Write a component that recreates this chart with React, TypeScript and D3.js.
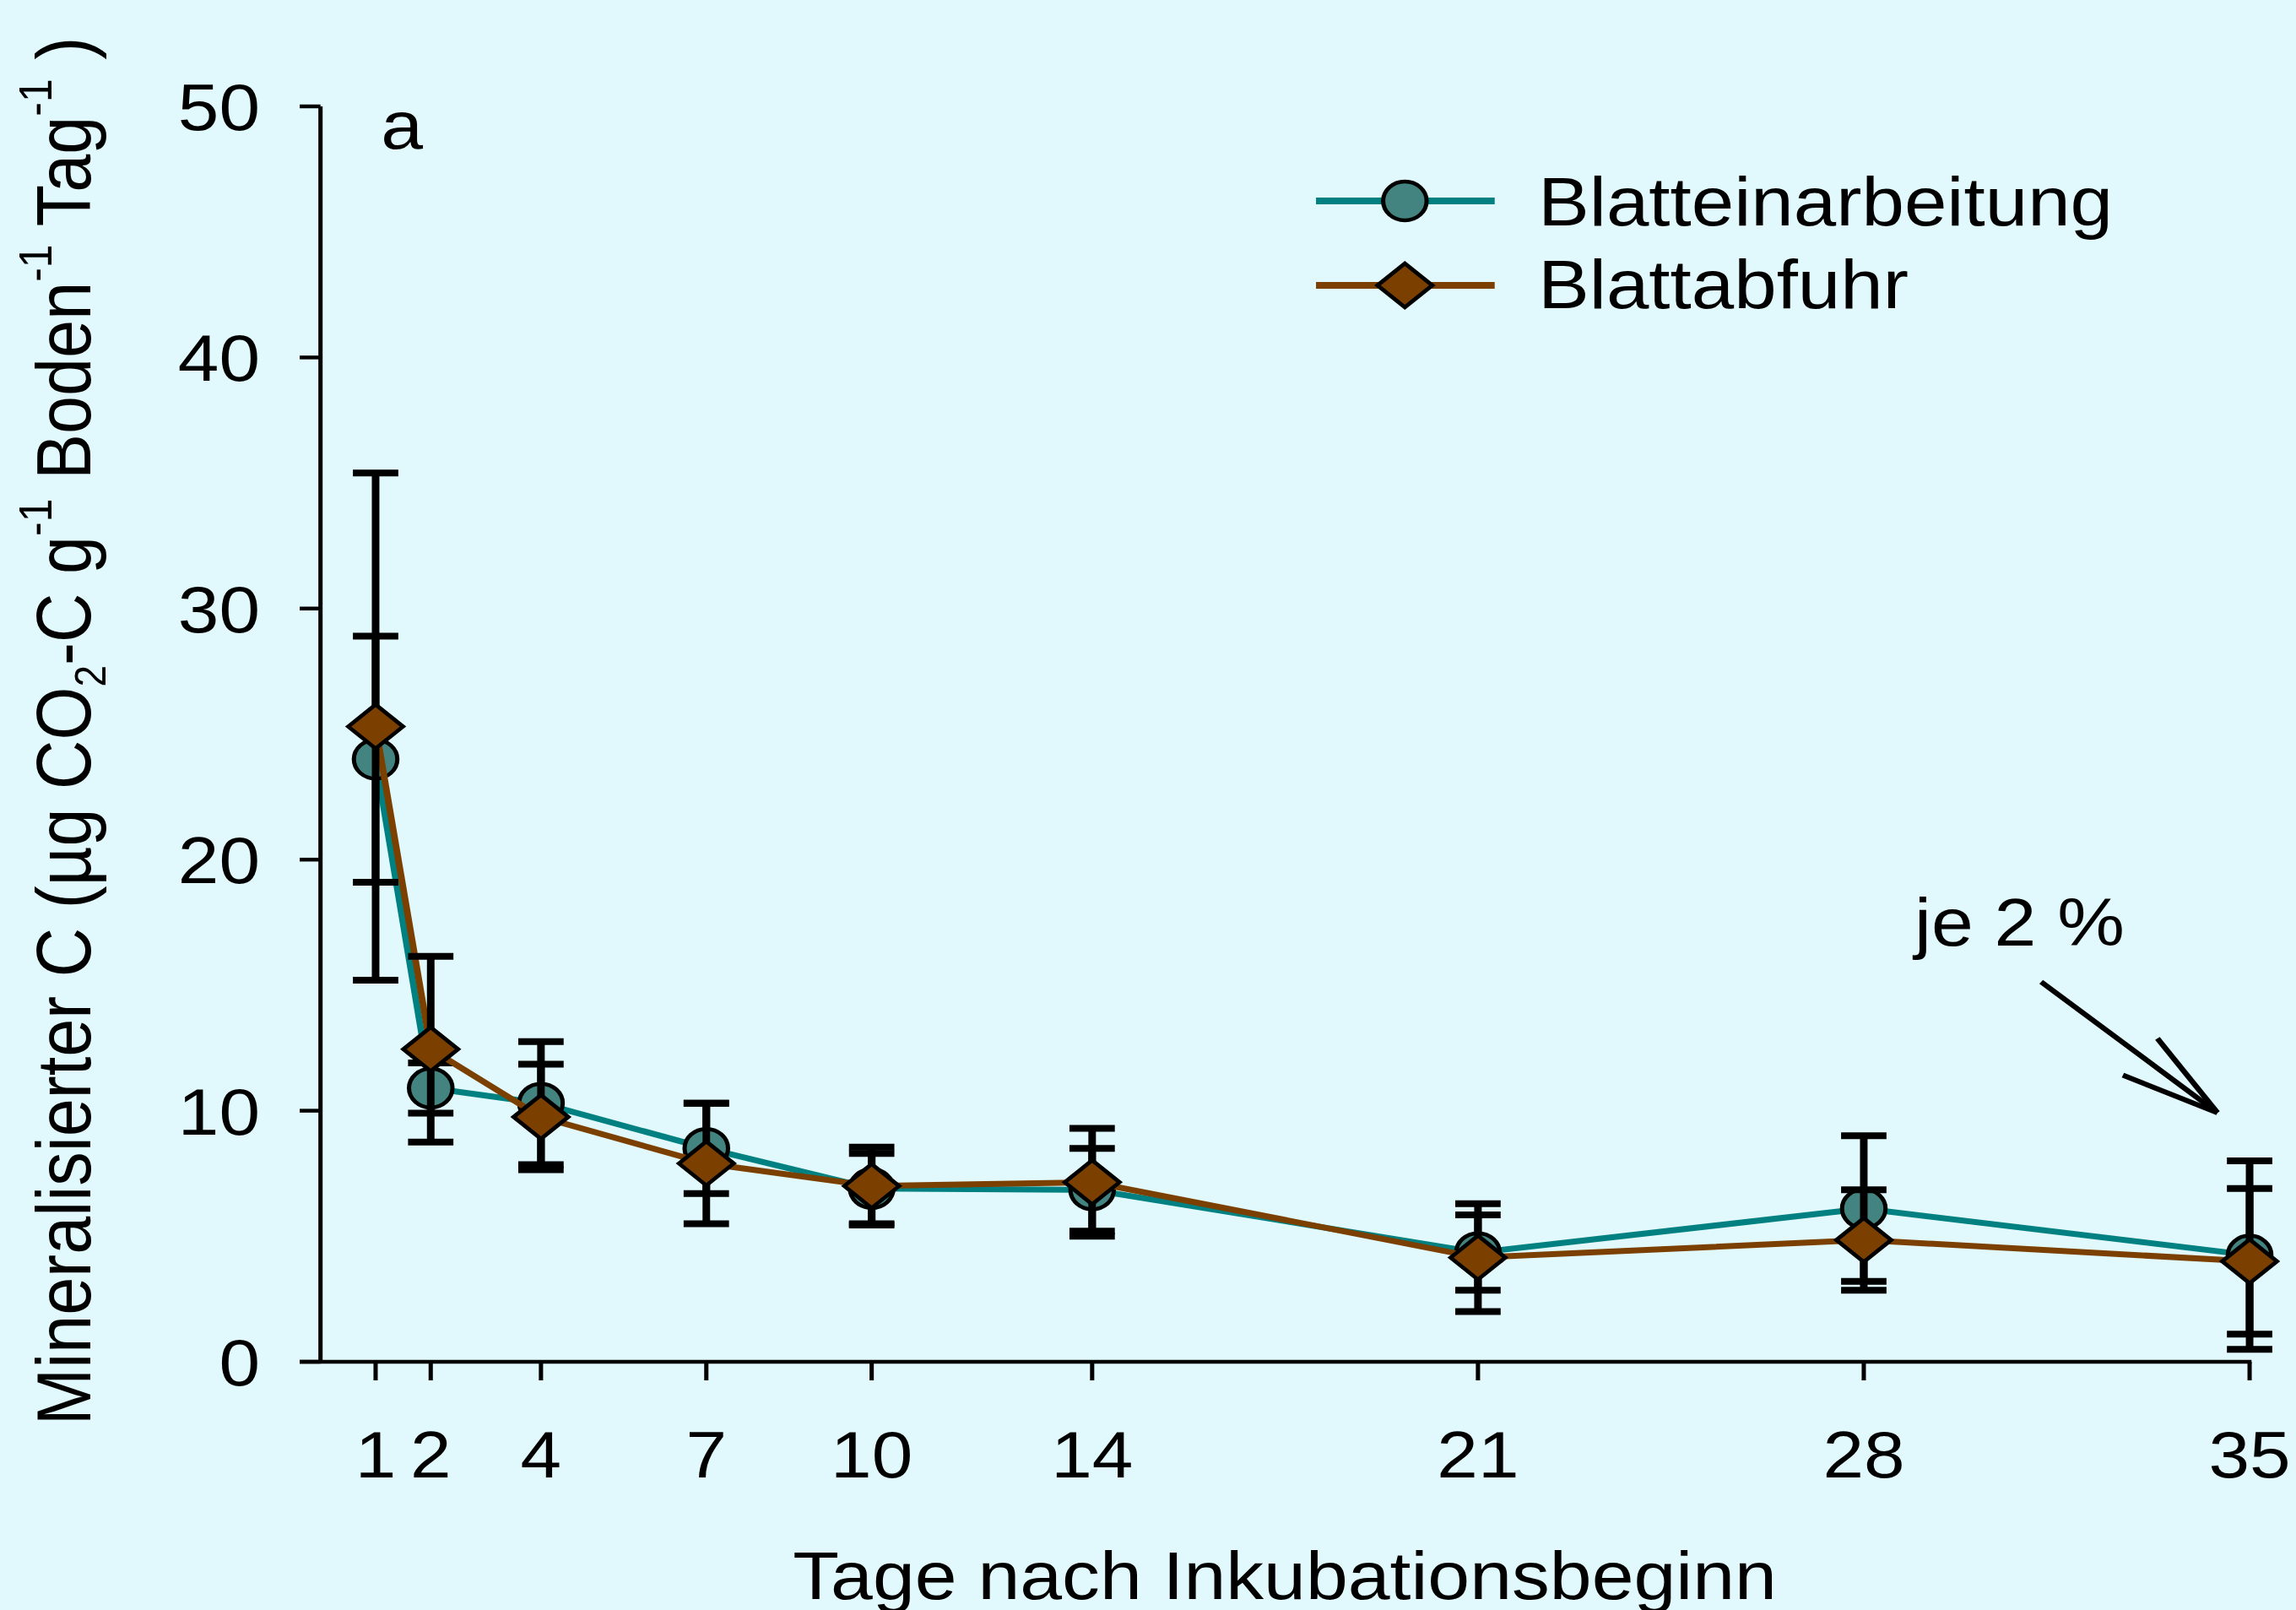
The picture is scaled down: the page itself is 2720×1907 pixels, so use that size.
import React from 'react';
import * as d3 from 'd3';

// values
const days = [1, 2, 4, 7, 10, 14, 21, 28, 35];
const einarbeitung = [24.0, 10.9, 10.3, 8.5, 6.9, 6.85, 4.35, 6.1, 4.25];
const einarbeitungErr = [4.9, 1.0, 2.45, 1.8, 1.4, 1.65, 1.5, 2.9, 3.75];
const abfuhr = [25.3, 12.45, 9.75, 7.9, 7.0, 7.15, 4.15, 4.85, 4.0];
const abfuhrErr = [10.1, 3.7, 2.1, 2.4, 1.55, 2.15, 2.15, 2.0, 2.9];
const yTicks = [0, 10, 20, 30, 40, 50];
const seriesNames = ['Blatteinarbeitung', 'Blattabfuhr'];

const W = 2720;
const H = 1907;
const SX = 1.12; // the original figure is stretched horizontally
const VW = W / SX;

const BG = '#E1F9FC';
const TEAL = '#008080';
const TEAL_FILL = '#438481';
const BROWN = '#7B3F00';
const FONT = '"Liberation Sans", Arial, Helvetica, sans-serif';

const x = d3.scaleLinear().domain([0, 35]).range([339, 2379.5]);
const y = d3.scaleLinear().domain([0, 50]).range([1613, 126]);

const line = d3.line<[number, number]>().x(d => x(d[0])).y(d => y(d[1]));

const diamond = (cx: number, cy: number, hw = 29, hh = 26) =>
  `M${cx - hw},${cy}L${cx},${cy - hh}L${cx + hw},${cy}L${cx},${cy + hh}Z`;

const ErrorBars = ({ vals, errs }: { vals: number[]; errs: number[] }) => (
  <g stroke="#000" strokeWidth={8} fill="none">
    {days.map((d, i) => {
      const cx = x(d);
      const top = y(vals[i] + errs[i]);
      const bot = y(vals[i] - errs[i]);
      return (
        <g key={d}>
          <line x1={cx} x2={cx} y1={top} y2={bot} />
          <line x1={cx - 24} x2={cx + 24} y1={top} y2={top} />
          <line x1={cx - 24} x2={cx + 24} y1={bot} y2={bot} />
        </g>
      );
    })}
  </g>
);

export default function App() {
  const ptsA = days.map((d, i) => [d, einarbeitung[i]] as [number, number]);
  const ptsB = days.map((d, i) => [d, abfuhr[i]] as [number, number]);

  return (
    <div style={{ position: 'absolute', left: 0, top: 0 }}>
      <svg
        width={W}
        height={H}
        viewBox={`0 0 ${VW} ${H}`}
        preserveAspectRatio="none"
        style={{ display: 'block' }}
        fontFamily={FONT}
      >
        <rect x={0} y={0} width={VW} height={H} fill={BG} />

        {/* axes */}
        <g stroke="#000" strokeWidth={4.5} fill="none">
          <line x1={x(0)} x2={x(0)} y1={y(50)} y2={y(0)} />
          <line x1={x(0) - 22} x2={x(35) + 2} y1={y(0)} y2={y(0)} />
          {yTicks.map(t => (
            <line key={t} x1={x(0) - 22} x2={x(0)} y1={y(t)} y2={y(t)} />
          ))}
          {days.map(d => (
            <line key={d} x1={x(d)} x2={x(d)} y1={y(0)} y2={y(0) + 22} />
          ))}
        </g>
        <g fontSize={78} fill="#000">
          {yTicks.map(t => (
            <text key={t} x={275} y={y(t)} dy="0.36em" textAnchor="end">{t}</text>
          ))}
          {days.map(d => (
            <text key={d} x={x(d)} y={1750} textAnchor="middle">{d}</text>
          ))}
        </g>

        <text x={1359} y={1894} fontSize={80} textAnchor="middle">Tage nach Inkubationsbeginn</text>
        <text transform={`translate(95.5,866) rotate(-90)`} fontSize={81} textAnchor="middle">
          Mineralisierter C (µg CO<tspan fontSize={46} dy={16}>2</tspan>
          <tspan dy={-16}>-C g</tspan>
          <tspan fontSize={50} dy={-41}>-1</tspan>
          <tspan dy={41}> Boden</tspan>
          <tspan fontSize={50} dy={-41}>-1</tspan>
          <tspan dy={41}> Tag</tspan>
          <tspan fontSize={50} dy={-41}>-1</tspan>
          <tspan dy={41}> )</tspan>
        </text>

        <text x={403} y={176} fontSize={80}>a</text>

        {/* Blatteinarbeitung */}
        <path d={line(ptsA) || ''} fill="none" stroke={TEAL} strokeWidth={7} />
        <ErrorBars vals={einarbeitung} errs={einarbeitungErr} />
        {ptsA.map(p => (
          <circle key={p[0]} cx={x(p[0])} cy={y(p[1])} r={23} fill={TEAL_FILL} stroke="#000" strokeWidth={4.5} />
        ))}

        {/* Blattabfuhr */}
        <path d={line(ptsB) || ''} fill="none" stroke={BROWN} strokeWidth={7} />
        <ErrorBars vals={abfuhr} errs={abfuhrErr} />
        {ptsB.map(p => (
          <path key={p[0]} d={diamond(x(p[0]), y(p[1]))} fill={BROWN} stroke="#000" strokeWidth={4.5} />
        ))}

        {/* legend */}
        <g>
          <line x1={1392} x2={1581} y1={238} y2={238} stroke={TEAL} strokeWidth={8} />
          <circle cx={1486} cy={238} r={23} fill={TEAL_FILL} stroke="#000" strokeWidth={4.5} />
          <text x={1627} y={267} fontSize={81}>{seriesNames[0]}</text>
          <line x1={1392} x2={1581} y1={338} y2={338} stroke={BROWN} strokeWidth={8} />
          <path d={diamond(1486, 338)} fill={BROWN} stroke="#000" strokeWidth={4.5} />
          <text x={1627} y={365} fontSize={81}>{seriesNames[1]}</text>
        </g>

        {/* annotation */}
        <text x={2025} y={1120} fontSize={80}>je 2 %</text>
        <g stroke="#000" strokeWidth={6} fill="none">
          <line x1={2159} y1={1163} x2={2345.5} y2={1318} />
          <line x1={2282} y1={1230} x2={2345.5} y2={1318} />
          <line x1={2245.5} y1={1273.6} x2={2345.5} y2={1318} />
        </g>
      </svg>
    </div>
  );
}
